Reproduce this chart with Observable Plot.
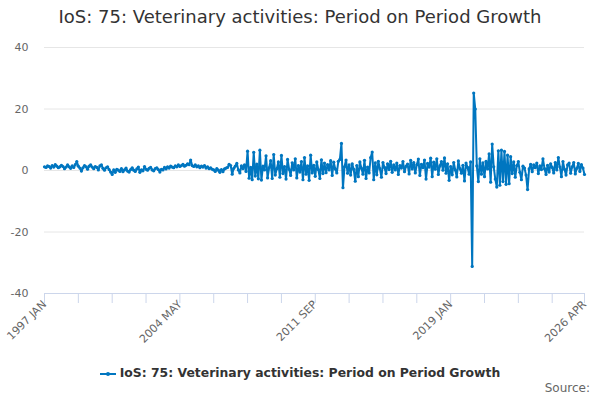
<!DOCTYPE html>
<html>
<head>
<meta charset="utf-8">
<script src="https://cdn.jsdelivr.net/npm/d3@7"></script>
<script src="https://cdn.jsdelivr.net/npm/@observablehq/plot@0.6"></script>
<style>
  body { margin: 0; width: 600px; height: 400px; position: relative; font-family: "DejaVu Sans", sans-serif; background: #fff; overflow: hidden; }
  #title { position: absolute; top: 0; left: 0; width: 600px; text-align: center; font-size: 18px; color: #333; line-height: 34px; }
  #chart { position: absolute; top: 34px; left: 0; }
  #legend { position: absolute; top: 364px; left: 0; width: 600px; text-align: center; font-size: 12.4px; font-weight: bold; color: #333; line-height: 18px; }
  #legend svg { vertical-align: middle; margin-right: 4px; }
  #source { position: absolute; top: 381px; right: 10px; font-size: 12px; color: #666; }
</style>
</head>
<body>
<div id="title"></div>
<div id="chart"></div>
<div id="legend"></div>
<div id="source">Source:</div>
<script>
const chartTitle = "IoS: 75: Veterinary activities: Period on Period Growth";
const seriesName = "IoS: 75: Veterinary activities: Period on Period Growth";
const startYear = 1997;
const monthNames = ["JAN","FEB","MAR","APR","MAY","JUN","JUL","AUG","SEP","OCT","NOV","DEC"];
const tickLabels = ["1997 JAN","2004 MAY","2011 SEP","2019 JAN","2026 APR"];
const yTicks = [-40, -20, 0, 20, 40];
const minorTickStep = 22;

// Monthly period-on-period growth (%), 1997 JAN .. 2026 APR
const values = [
  // 1997
  1.2, 1.0, 1.5, 1.3, 0.8, 1.6, 1.1, 1.9, 1.4, 0.9, 1.2, 1.7,
  // 1998
  1.3, 0.6, 1.1, 1.8, 1.2, 0.7, 1.5, 1.0, 1.9, 2.9, 1.4, 0.8,
  // 1999
  -0.2, 0.9, 1.6, 1.2, 0.4, 1.4, 1.8, 1.1, 0.6, 1.3, 1.0, 0.2,
  // 2000
  1.5, 1.8, 0.7, 0.1, 0.9, 1.2, 0.3, -0.5, -1.3, 0.2, -0.6, 0.4,
  // 2001
  0.1, -0.3, 0.6, -0.4, 0.2, 0.8, -0.2, -0.5, 0.3, 0.9, 0.1, -0.3,
  // 2002
  0.5, 1.1, -0.6, 0.2, -0.1, 1.3, 0.4, 0.1, 0.7, 1.0, 0.2, -0.1,
  // 2003
  0.6, 0.9, 0.3, -0.5, 0.4, 0.2, 1.0, 0.5, 1.2, 0.8, 1.4, 1.1,
  // 2004
  0.9, 1.5, 1.2, 1.8, 1.3, 1.6, 2.0, 1.4, 1.7, 2.2, 1.9, 3.4,
  // 2005
  1.6, 1.3, 1.8, 1.2, 1.5, 0.9, 1.4, 1.1, 1.6, 0.8, 1.2, 0.6,
  // 2006
  0.9, 0.4, 0.2, -0.3, 0.6, 0.1, -0.6, 0.3, -0.4, 0.5, 0.8, 1.0,
  // 2007
  2.0, 1.6, -1.2, 0.7, 1.4, 2.3, 0.2, -0.8, 1.5, 0.6, 1.8, -0.3,
  // 2008
  6.3, -2.5, 1.0, -3.0, 5.9, -1.8, 2.1, -2.7, 6.6, -3.1, 1.4, 0.2,
  // 2009
  4.8, -2.4, 0.9, 3.2, -2.6, 5.2, -1.5, 0.6, 2.8, -2.2, 4.9, -1.0,
  // 2010
  1.3, -2.8, 3.6, 0.4, -1.6, 2.5, 0.2, 3.8, -2.4, 1.6, -0.5, 2.9,
  // 2011
  -3.0, 4.2, -1.2, 1.5, -3.2, 5.0, -0.8, 1.7, -1.9, 2.8, 0.3, -2.6,
  // 2012
  3.5, -1.0, 2.4, -0.7, 1.9, 0.2, 3.2, -1.6, 2.7, 0.5, -0.8, 3.0,
  // 2013
  3.6, 8.8, -5.6, 1.2, 3.4, -0.9, 1.8, -1.5, 2.2, 0.4, -3.5, 1.6,
  // 2014
  -2.0, 2.8, 0.7, -1.2, 3.3, -2.6, 1.1, -0.8, 4.2, 6.0, -3.0, 2.5,
  // 2015
  -1.4, 3.0, 0.6, -2.2, 2.6, 1.0, -1.0, 2.2, 0.3, 3.0, -0.6, 1.8,
  // 2016
  0.2, 2.4, -1.3, 1.6, 0.8, 2.9, -0.4, 1.4, 2.1, -1.1, 3.3, 0.5,
  // 2017
  2.6, -0.8, 1.9, 3.7, -1.6, 2.0, 0.9, 3.4, -2.8, 2.3, 1.1, 4.0,
  // 2018
  -2.0, 2.7, 0.4, 3.8, -1.3, 1.5, 2.9, 0.1, 4.1, -0.9, 2.2, -3.2,
  // 2019
  1.3, -1.4, 2.6, 0.2, -2.1, 3.1, 0.6, -0.9, 1.7, -3.4, 2.4, 1.0,
  // 2020
  -1.2, 2.8, -31.2, 25.2, 20.0, 1.5, -3.6, 3.8, -1.2, 2.5, -2.0, 3.0,
  // 2021
  0.5, 5.4, -3.8, 8.6, 1.2, -2.8, -5.4, 6.4, -4.8, 6.6, -3.6, 6.2,
  // 2022
  -4.5, 5.0, -4.3, 4.5, -1.0, 2.8, -2.2, 1.6, 2.9, -0.6, -3.0, 1.4,
  // 2023
  0.8, -1.5, -6.2, 0.5, 2.0, -0.4, 1.8, 0.9, 2.4, -1.0, 1.5, 0.3,
  // 2024
  3.8, 0.6, -1.3, 1.7, -0.5, 2.2, 1.0, -0.8, 2.6, 0.2, 4.2, 1.1,
  // 2025
  -2.0, 2.9, 0.4, -1.5, 1.8, 2.4, -0.9, 1.2, 2.6, -1.1, 0.7, 2.3,
  // 2026
  -0.3, 1.9, 0.8, -1.3
];

const monthLabels = values.map((_, i) => `${startYear + Math.floor(i / 12)} ${monthNames[i % 12]}`);
const data = values.map((v, i) => ({i, label: monthLabels[i], v}));
const labelTicks = tickLabels.map(l => monthLabels.indexOf(l));
const minorTicks = d3.range(0, values.length, minorTickStep).concat([values.length - 1]);
const blue = "#0076c0";

document.getElementById("title").textContent = chartTitle;

const chart = Plot.plot({
  width: 600,
  height: 320,
  marginTop: 13,
  marginBottom: 61,
  marginLeft: 44,
  marginRight: 16,
  style: {fontFamily: "'DejaVu Sans', sans-serif", background: "#fff"},
  x: {domain: [0, values.length - 1]},
  y: {domain: [-40, 40]},
  marks: [
    Plot.gridY(yTicks.filter(t => t > -40), {stroke: "#e6e6e6", strokeOpacity: 1}),
    Plot.ruleY([-40], {stroke: "#ccd6eb", strokeWidth: 1}),
    Plot.axisY(yTicks, {tickSize: 0, tickPadding: 16, fontSize: 11, fill: "#666", label: null,
      tickFormat: d => String(d)}),
    Plot.axisX(minorTicks, {tickSize: 10, tickFormat: () => "", stroke: "#ccd6eb", label: null}),
    Plot.axisX(labelTicks, {tickSize: 0, tickPadding: 9, tickRotate: -45, fontSize: 11, fill: "#666",
      tickFormat: i => monthLabels[i], label: null}),
    Plot.line(data, {x: "i", y: "v", stroke: blue, strokeWidth: 2}),
    Plot.dot(data, {x: "i", y: "v", r: 1.6, fill: blue, stroke: null})
  ]
});
document.getElementById("chart").appendChild(chart);

const legend = document.getElementById("legend");
legend.innerHTML = `<svg width="16" height="10"><line x1="0" x2="16" y1="5" y2="5" stroke="${blue}" stroke-width="2"/><circle cx="8" cy="5" r="2" fill="${blue}"/></svg>`;
legend.appendChild(document.createTextNode(seriesName));
</script>
</body>
</html>
